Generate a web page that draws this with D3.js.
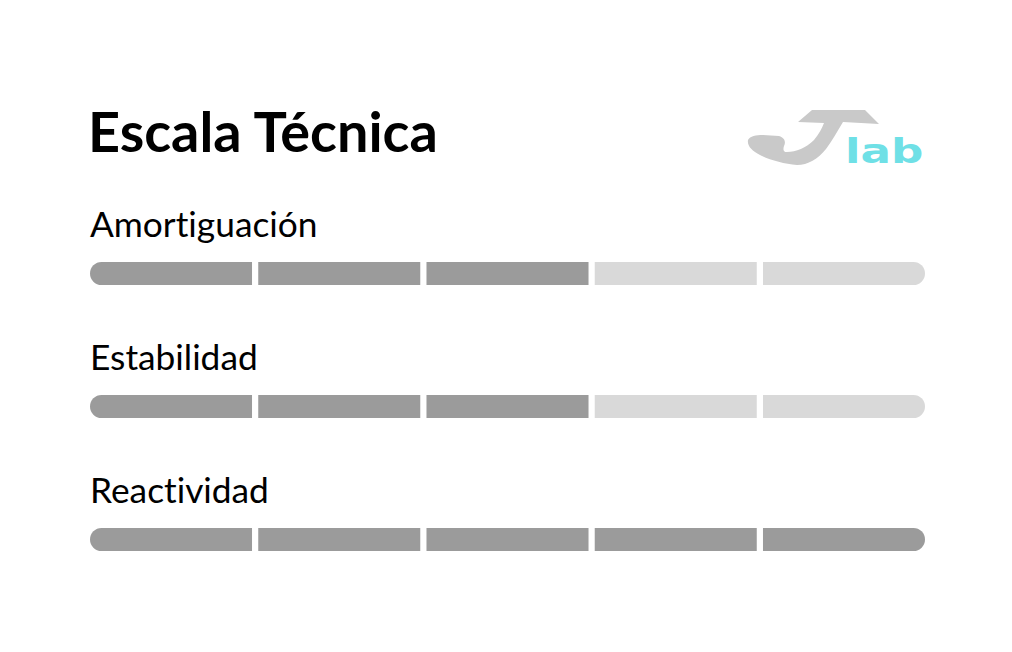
<!DOCTYPE html>
<html>
<head>
<meta charset="utf-8">
<script src="https://cdn.jsdelivr.net/npm/d3@7"></script>
<style>
body { margin: 0; background: #fff; }
text { font-family: "Lato", sans-serif; font-variant-ligatures: none; }
</style>
</head>
<body>
<svg></svg>
<script>
var categories = ["Amortiguación", "Estabilidad", "Reactividad"]
var scores = [3, 3, 5]
var levels = [1, 2, 3, 4, 5]
var title = "Escala Técnica"

var screen = {width:1012,height:652}
var margins = {top:262,left:90,right:87}

var svg = d3.select("svg")
    .attr("width",screen.width)
    .attr("height",screen.height)

svg.append("text")
    .attr("x",88)
    .attr("y",152)
    .attr("font-size",55.8)
    .attr("font-weight",700)
    .attr("fill","#000")
    .text(title)

// logo
var logo = svg.append("g").attr("id","logo")
logo.append("path")
    .attr("fill","#c9c9c9")
    .attr("d","M812,110 L865,110 L879,124 L843,122 C837,132 832,141 826,149 C818,159 808,165 797,165 C784,164 770,160 760,155 C752,151 747,146 748,140 C750,136 756,135 763,135 L779,136 C785,138 786,142 784,146 C783,149 783,152 787,152 C796,152 806,148 814,140 C819,134 822,128 824,123 L798,122 Z")
logo.append("text")
    .attr("transform","translate(845,163) scale(1.33,1)")
    .attr("font-size",34)
    .attr("font-weight",700)
    .attr("fill","#6fe0e6")
    .style("font-family","DejaVu Sans")
    .text("lab")

var width = screen.width - margins.left - margins.right
var barHeight = 23
var rowStep = 133

var xScale = d3.scaleBand()
    .domain(levels)
    .range([0,width])
    .paddingInner(0.037)

var yScale = d3.scaleLinear()
    .domain([0,1])
    .range([margins.top, margins.top+rowStep])

var defs = svg.append("defs")

var rows = svg.selectAll(".row")
    .data(categories)
    .enter()
    .append("g")
    .attr("class","row")
    .attr("transform",function(d,i){ return "translate("+margins.left+","+yScale(i)+")" })

rows.append("text")
    .attr("x",0)
    .attr("y",-25)
    .attr("font-size",35.3)
    .attr("fill","#000")
    .text(function(d){ return d })

defs.selectAll("clipPath")
    .data(categories)
    .enter()
    .append("clipPath")
    .attr("id",function(d,i){ return "clip"+i })
    .append("rect")
    .attr("width",width)
    .attr("height",barHeight)
    .attr("rx",barHeight/2)

rows.append("g")
    .attr("clip-path",function(d,i){ return "url(#clip"+i+")" })
    .selectAll("rect")
    .data(function(d,i){ return levels.map(function(l){ return {level:l, on: l <= scores[i]} }) })
    .enter()
    .append("rect")
    .attr("x",function(d){ return xScale(d.level) })
    .attr("width",xScale.bandwidth())
    .attr("height",barHeight)
    .attr("fill",function(d){ return d.on ? "#9b9b9b" : "#d9d9d9" })
</script>
</body>
</html>
